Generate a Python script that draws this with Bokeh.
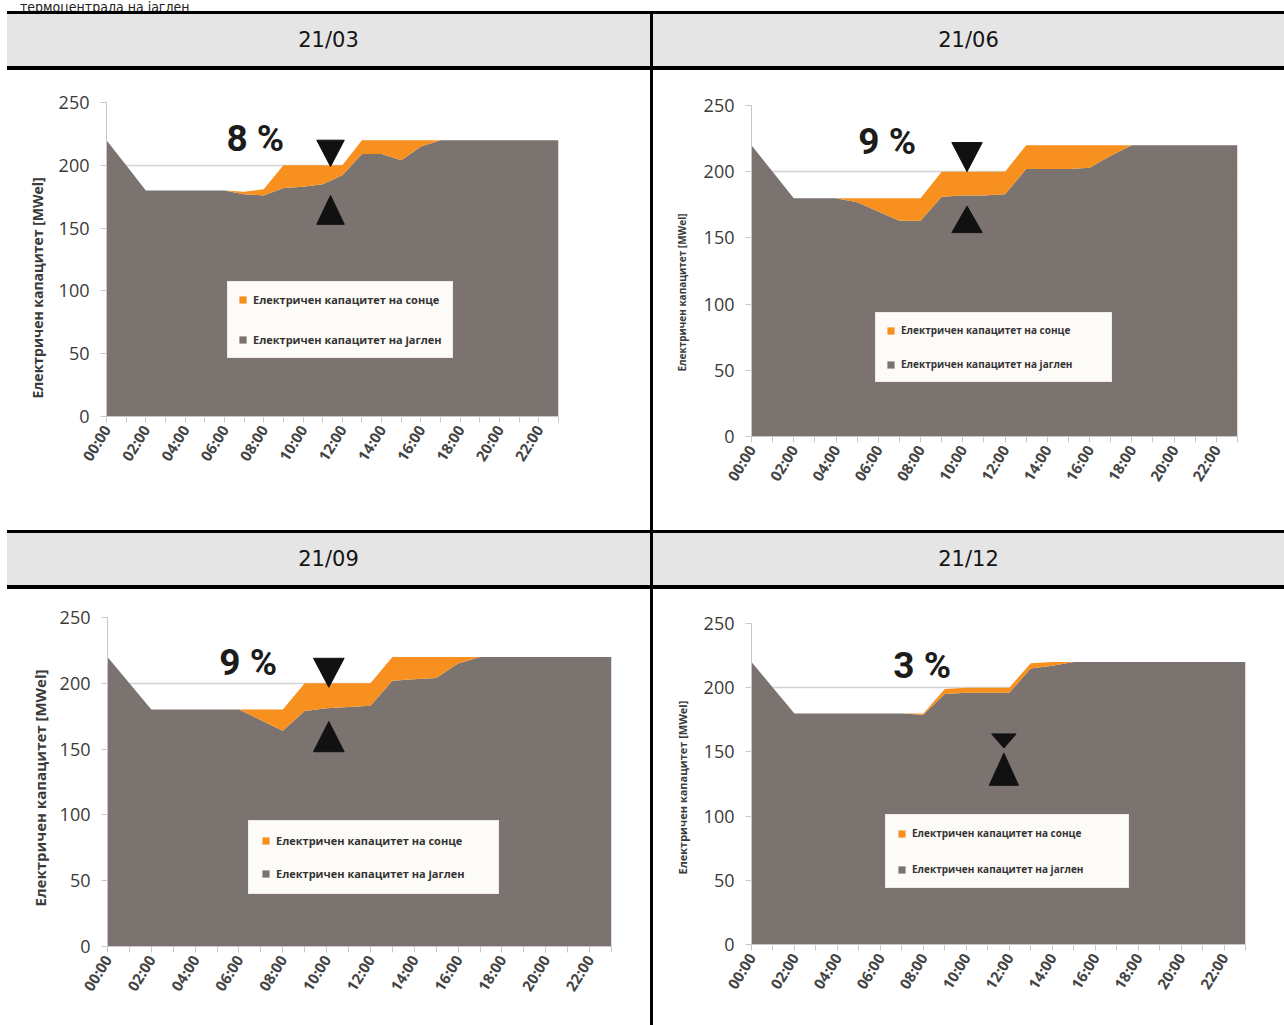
import math
from bokeh.plotting import figure
from bokeh.models import Range1d, FixedTicker, Legend, LegendItem, Div, Title
from bokeh.layouts import row, column
from bokeh.embed import file_html
from bokeh.resources import INLINE
from bokeh.core.properties import value

# ---------------- data ----------------
hours = list(range(24))
dates = ["21/03", "21/06", "21/09", "21/12"]
shares = ["8 %", "9 %", "9 %", "3 %"]
caption = "термоцентрала на јаглен"
y_title = "Електричен капацитет [MWel]"
solar_name = "Електричен капацитет на сонце"
coal_name = "Електричен капацитет на јаглен"

coal_mar = [220, 200, 180, 180, 180, 180, 180, 177, 176, 182, 183, 185, 192, 209, 209, 204, 215, 220, 220, 220, 220, 220, 220, 220]
solar_mar = [0, 0, 0, 0, 0, 0, 0, 2, 5, 18, 17, 15, 8, 11, 11, 16, 5, 0, 0, 0, 0, 0, 0, 0]

coal_jun = [220, 200, 180, 180, 180, 177, 170, 163, 163, 181, 182, 182, 183, 202, 202, 202, 203, 212, 220, 220, 220, 220, 220, 220]
solar_jun = [0, 0, 0, 0, 0, 3, 10, 17, 17, 19, 18, 18, 17, 18, 18, 18, 17, 8, 0, 0, 0, 0, 0, 0]

coal_sep = [220, 200, 180, 180, 180, 180, 180, 172, 164, 179, 181, 182, 183, 202, 203, 204, 215, 220, 220, 220, 220, 220, 220, 220]
solar_sep = [0, 0, 0, 0, 0, 0, 0, 8, 16, 21, 19, 18, 17, 18, 17, 16, 5, 0, 0, 0, 0, 0, 0, 0]

coal_dec = [220, 200, 180, 180, 180, 180, 180, 180, 179, 195, 196, 196, 196, 215, 217, 220, 220, 220, 220, 220, 220, 220, 220, 220]
solar_dec = [0, 0, 0, 0, 0, 0, 0, 0, 1, 4, 4, 4, 4, 4, 3, 0, 0, 0, 0, 0, 0, 0, 0, 0]

# annotation anchors (hour, MWel)
share_hour = [6.1, 5.05, 5.1, 6.6]
share_val = [221, 223, 216, 217]
arrow_hour = [11.4, 10.2, 10.1, 11.75]
down_base = [220, 222, 219, 164]
down_tip = [199, 200, 197, 153]
up_tip = [176, 174, 171, 149]
up_base = [153, 154, 148, 124]

GRAY = "#7b7370"
ORANGE = "#f7901e"
TXT = "#3a3a3a"
AX = "#c8c8c8"


def make_panel(i, coal, solar, w, h, bl, br, bt, bb, leg_loc, leg_font, leg_lw,
               leg_pad, leg_sp, ytitle_font, ytitle_offset, ytitle_standoff, dhw, uhw):
    total = [c + s for c, s in zip(coal, solar)]
    p = figure(width=w, height=h, x_range=Range1d(0, 23), y_range=Range1d(0, 250),
               output_backend="svg", toolbar_location=None,
               min_border_left=bl, min_border_right=br, min_border_top=bt, min_border_bottom=bb)
    p.frame_align = False
    p.outline_line_color = None
    p.background_fill_color = "white"
    p.border_fill_color = "white"
    p.xgrid.visible = False
    p.ygrid.ticker = FixedTicker(ticks=[50, 100, 150, 200, 250])
    p.ygrid.grid_line_color = "#d4d4d4"
    p.ygrid.grid_line_width = 1.5

    r_coal = p.varea(x=hours, y1=0, y2=coal, fill_color=GRAY)
    r_sun = p.varea(x=hours, y1=coal, y2=total, fill_color=ORANGE)

    a = arrow_hour[i]
    p.patches(xs=[[a - dhw, a + dhw, a], [a - uhw, a + uhw, a]],
              ys=[[down_base[i], down_base[i], down_tip[i]], [up_base[i], up_base[i], up_tip[i]]],
              fill_color="#111111", line_color="#111111")

    p.text(x=[share_hour[i]], y=[share_val[i]], text=[shares[i]], text_font=value("Roboto"),
           text_font_style="bold", text_font_size="37px", text_color="#1c1c1c",
           text_baseline="middle", text_align="left")

    # axes
    xa = p.xaxis[0]
    xa.ticker = FixedTicker(ticks=list(range(0, 24, 2)), minor_ticks=list(range(1, 24, 2)))
    xa.major_label_overrides = {hh: f"{hh:02d}:00" for hh in range(0, 24, 2)}
    xa.major_label_orientation = math.radians(58)
    xa.major_label_text_font = "Open Sans"
    xa.major_label_text_font_style = "bold"
    xa.major_label_text_font_size = "15px"
    xa.major_label_text_color = "#444444"
    xa.axis_line_color = AX
    xa.major_tick_line_color = AX
    xa.minor_tick_line_color = AX
    xa.major_tick_in = 0
    xa.major_tick_out = 6
    xa.minor_tick_in = 0
    xa.minor_tick_out = 6
    xa.major_label_standoff = 4

    ya = p.yaxis[0]
    ya.ticker = FixedTicker(ticks=[0, 50, 100, 150, 200, 250])
    ya.major_label_text_font = "Open Sans"
    ya.major_label_text_font_size = "18px"
    ya.major_label_text_color = TXT
    ya.axis_line_color = AX
    ya.major_tick_line_color = AX
    ya.minor_tick_line_color = None
    ya.major_tick_in = 0
    ya.major_tick_out = 6
    ya.major_label_standoff = 11

    p.add_layout(Title(text=y_title, align="left", offset=ytitle_offset, standoff=ytitle_standoff,
                       text_font="Open Sans", text_font_style="bold",
                       text_font_size=ytitle_font, text_color=TXT), "left")

    leg = Legend(items=[LegendItem(label=solar_name, renderers=[r_sun]),
                        LegendItem(label=coal_name, renderers=[r_coal])],
                 location=leg_loc, margin=0, padding=leg_pad, spacing=leg_sp,
                 glyph_width=9, glyph_height=9, label_height=12, label_width=leg_lw,
                 label_standoff=6, label_text_font="Open Sans", label_text_font_style="bold",
                 label_text_font_size=leg_font, label_text_color="#333333",
                 background_fill_color="#fdfbf8", background_fill_alpha=1.0,
                 border_line_color="#e0dcd8", border_line_width=1)
    p.add_layout(leg, "center")
    return p


p1 = make_panel(0, coal_mar, solar_mar, 643, 460, 99, 92, 32, 114, (121, 58), "11px", 180, 10, 25, "14px", 18, 17, 0.7, 0.7)
p2 = make_panel(1, coal_jun, solar_jun, 631, 460, 98, 47, 35, 94, (124, 54), "10px", 200, 10, 20, "10px", 65, 23, 0.72, 0.72)
p3 = make_panel(2, coal_sep, solar_sep, 643, 436, 100, 39, 28, 79, (141, 52), "11px", 210, 12, 18, "15px", 40, 13, 0.7, 0.7)
p4 = make_panel(3, coal_dec, solar_dec, 631, 436, 98, 39, 34, 81, (134, 56), "10px", 205, 11, 22, "11px", 70, 22, 0.57, 0.68)


def black(w, h):
    return Div(text="", width=w, height=h, margin=0, styles={"background-color": "#000000"})


def white(w, h):
    return Div(text="", width=w, height=h, margin=0, styles={"background-color": "#ffffff"})


def header(txt, w):
    html = (f'<div style="width:{w}px;height:52px;display:flex;align-items:center;'
            f'justify-content:center;font-family:\'DejaVu Sans\';font-size:21px;color:#141414;">{txt}</div>')
    return Div(text=html, width=w, height=52, margin=0, styles={"background-color": "#e5e5e5"})


top = Div(text=('<div style="margin-top:-12px;padding-left:20px;white-space:nowrap;'
                'font-family:\'DejaVu Sans Condensed\',\'DejaVu Sans\';font-stretch:condensed;'
                'font-size:14px;color:#222;">' + caption + '</div>'),
          width=1284, height=11, margin=0, styles={"overflow": "hidden"})

layout = column(
    top,
    row(white(7, 3), black(1277, 3), spacing=0),
    row(white(7, 52), header(dates[0], 643), black(3, 52), header(dates[1], 631), spacing=0),
    row(white(7, 4), black(1277, 4), spacing=0),
    row(white(7, 460), p1, black(3, 460), p2, spacing=0),
    row(white(7, 3), black(1277, 3), spacing=0),
    row(white(7, 52), header(dates[2], 643), black(3, 52), header(dates[3], 631), spacing=0),
    row(white(7, 4), black(1277, 4), spacing=0),
    row(white(7, 436), p3, black(3, 436), p4, spacing=0),
    spacing=0,
)

open("out.html", "w").write(file_html(layout, INLINE))
